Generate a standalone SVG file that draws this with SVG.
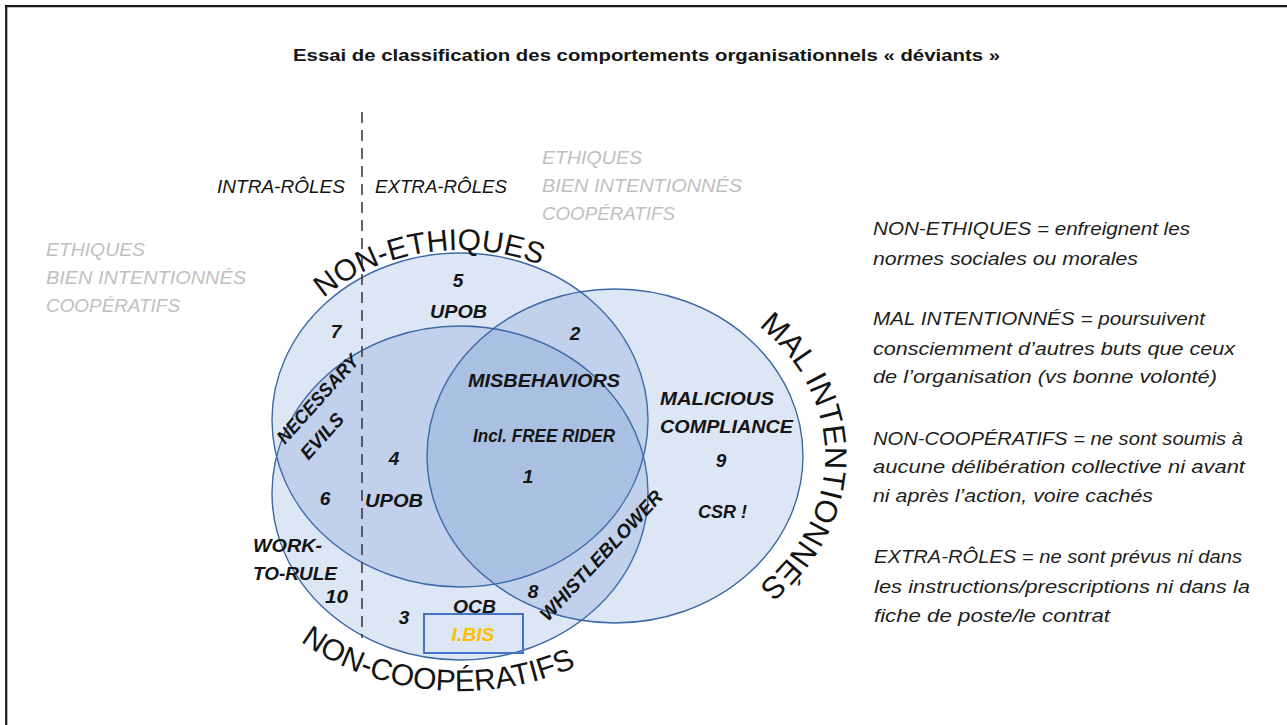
<svg xmlns="http://www.w3.org/2000/svg" width="1287" height="725" viewBox="0 0 1287 725">
<style>
text{font-family:"Liberation Sans",Arial,sans-serif;fill:#141414}
.lab{font-style:italic;font-weight:bold;font-size:19px}
.gray{font-style:italic;font-size:19px;fill:#bfbfbf}
.desc{font-style:italic;font-size:18.5px;fill:#1e1e1e}
.role{font-style:italic;font-size:19px}
.arc{font-size:30px}
.venn{fill:#4472c4;fill-opacity:0.18;stroke:#3d68a6;stroke-width:1.4}
</style>
<defs>
<path id="arcTop" d="M 264,420 A 196,170 0 0 1 656,420"/>
<path id="arcBot" d="M 220,495 A 240,196 0 0 0 700,495"/>
<path id="arcRight" d="M 615,278 A 210,178 0 0 1 615,634"/>
</defs>
<rect width="1287" height="725" fill="#ffffff"/>
<g id="frame" stroke="#1a1a1a" stroke-width="2.2" fill="none">
<line x1="5" y1="6.2" x2="1287" y2="6.2"/>
<line x1="6.2" y1="5" x2="6.2" y2="725"/>
</g>
<text id="title" x="293" y="61" font-size="16.5" font-weight="bold" textLength="707" lengthAdjust="spacingAndGlyphs">Essai de classification des comportements organisationnels « déviants »</text>

<g id="circles">
<ellipse id="nonEthiques" class="venn" cx="460" cy="420" rx="188" ry="167"/>
<ellipse id="nonCooperatifs" class="venn" cx="460" cy="493" rx="188" ry="167"/>
<ellipse id="malIntentionnes" class="venn" cx="615" cy="456" rx="188" ry="167"/>
</g>

<g id="connectors">
<line x1="362" y1="112" x2="362" y2="638" stroke="#333" stroke-width="1.5" stroke-dasharray="11 7"/>
</g>

<g id="roles">
<text class="role" x="217" y="193" textLength="128" lengthAdjust="spacingAndGlyphs">INTRA-RÔLES</text>
<text class="role" x="375" y="193" textLength="132" lengthAdjust="spacingAndGlyphs">EXTRA-RÔLES</text>
</g>

<g id="grayTop">
<text class="gray" x="542" y="164" textLength="100" lengthAdjust="spacingAndGlyphs">ETHIQUES</text>
<text class="gray" x="542" y="192" textLength="200" lengthAdjust="spacingAndGlyphs">BIEN INTENTIONNÉS</text>
<text class="gray" x="542" y="220" textLength="133" lengthAdjust="spacingAndGlyphs">COOPÉRATIFS</text>
</g>
<g id="grayLeft">
<text class="gray" x="46" y="256" textLength="99" lengthAdjust="spacingAndGlyphs">ETHIQUES</text>
<text class="gray" x="46" y="284" textLength="200" lengthAdjust="spacingAndGlyphs">BIEN INTENTIONNÉS</text>
<text class="gray" x="46" y="312" textLength="134" lengthAdjust="spacingAndGlyphs">COOPÉRATIFS</text>
</g>

<g id="arcLabels">
<text class="arc"><textPath href="#arcTop" startOffset="255" text-anchor="middle">NON-ETHIQUES</textPath></text>
<text class="arc" font-size="29"><textPath href="#arcBot" startOffset="318" text-anchor="middle">NON-COOPÉRATIFS</textPath></text>
<text class="arc" style="font-size:31px"><textPath href="#arcRight" startOffset="50%" text-anchor="middle">MAL INTENTIONNÉS</textPath></text>
</g>

<g id="regionLabels">
<text class="lab" x="458" y="287" text-anchor="middle">5</text>
<text class="lab" x="430" y="318" textLength="57" lengthAdjust="spacingAndGlyphs">UPOB</text>
<text class="lab" x="336" y="338" text-anchor="middle">7</text>
<text class="lab" x="575" y="340" text-anchor="middle">2</text>
<text class="lab" x="468" y="387" textLength="152" lengthAdjust="spacingAndGlyphs">MISBEHAVIORS</text>
<text class="lab" x="473" y="442" font-size="17.5" textLength="142" lengthAdjust="spacingAndGlyphs">Incl. FREE RIDER</text>
<text class="lab" x="528" y="483" text-anchor="middle">1</text>
<text class="lab" x="394" y="465" text-anchor="middle">4</text>
<text class="lab" x="365" y="507" textLength="58" lengthAdjust="spacingAndGlyphs">UPOB</text>
<text class="lab" x="325" y="505" text-anchor="middle">6</text>
<text class="lab" x="253" y="552" textLength="69" lengthAdjust="spacingAndGlyphs">WORK-</text>
<text class="lab" x="253" y="580" textLength="84" lengthAdjust="spacingAndGlyphs">TO-RULE</text>
<text class="lab" x="325" y="603" textLength="23" lengthAdjust="spacingAndGlyphs">10</text>
<text class="lab" x="404" y="624" text-anchor="middle">3</text>
<text class="lab" x="453" y="613" textLength="43" lengthAdjust="spacingAndGlyphs">OCB</text>
<text class="lab" x="533" y="598" text-anchor="middle">8</text>
<text class="lab" x="660" y="405" textLength="114" lengthAdjust="spacingAndGlyphs">MALICIOUS</text>
<text class="lab" x="660" y="433" textLength="133" lengthAdjust="spacingAndGlyphs">COMPLIANCE</text>
<text class="lab" x="721" y="467" text-anchor="middle">9</text>
<text class="lab" x="698" y="518" textLength="49" lengthAdjust="spacingAndGlyphs">CSR !</text>
<text class="lab" transform="translate(285,445) rotate(-48)"><tspan x="0" y="0" textLength="112" lengthAdjust="spacingAndGlyphs">NECESSARY</tspan><tspan x="4" y="28">EVILS</tspan></text>
<text class="lab" transform="translate(548,622) rotate(-47)" textLength="170" lengthAdjust="spacingAndGlyphs">WHISTLEBLOWER</text>
</g>

<g id="ibis">
<rect x="424" y="614" width="99" height="39" fill="none" stroke="#4472c4" stroke-width="2"/>
<text class="lab" x="473" y="641" text-anchor="middle" style="fill:#ffc000" textLength="43" lengthAdjust="spacingAndGlyphs">I.BIS</text>
</g>

<g id="definitions">
<text class="desc" x="873" y="235" textLength="317" lengthAdjust="spacingAndGlyphs">NON-ETHIQUES = enfreignent les</text>
<text class="desc" x="873" y="265" textLength="265" lengthAdjust="spacingAndGlyphs">normes sociales ou morales</text>
<text class="desc" x="873" y="325" textLength="332" lengthAdjust="spacingAndGlyphs">MAL INTENTIONNÉS = poursuivent</text>
<text class="desc" x="873" y="355" textLength="362" lengthAdjust="spacingAndGlyphs">consciemment d’autres buts que ceux</text>
<text class="desc" x="873" y="383" textLength="344" lengthAdjust="spacingAndGlyphs">de l’organisation (vs bonne volonté)</text>
<text class="desc" x="873" y="445" textLength="370" lengthAdjust="spacingAndGlyphs">NON-COOPÉRATIFS = ne sont soumis à</text>
<text class="desc" x="873" y="473" textLength="372" lengthAdjust="spacingAndGlyphs">aucune délibération collective ni avant</text>
<text class="desc" x="873" y="502" textLength="280" lengthAdjust="spacingAndGlyphs">ni après l’action, voire cachés</text>
<text class="desc" x="874" y="563" textLength="368" lengthAdjust="spacingAndGlyphs">EXTRA-RÔLES = ne sont prévus ni dans</text>
<text class="desc" x="874" y="593" textLength="376" lengthAdjust="spacingAndGlyphs">les instructions/prescriptions ni dans la</text>
<text class="desc" x="874" y="622" textLength="236" lengthAdjust="spacingAndGlyphs">fiche de poste/le contrat</text>
</g>
</svg>
